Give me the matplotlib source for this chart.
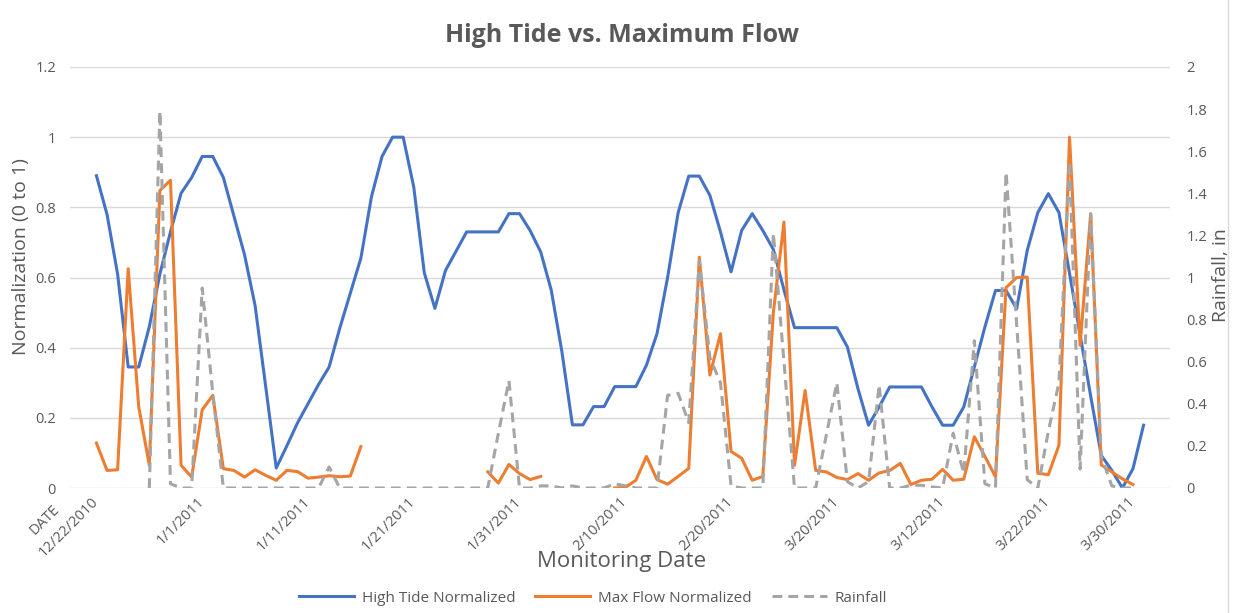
import numpy as np
import matplotlib
matplotlib.use('Agg')
import matplotlib.pyplot as plt
from matplotlib.lines import Line2D
import matplotlib.transforms as mtransforms

plt.rcParams['font.family'] = ['Open Sans', 'DejaVu Sans']

nan = np.nan

# high tide, normalized (0 to 1), one value per monitoring day
high_tide = [
    0.89, 0.78, 0.61, 0.345, 0.345, 0.46, 0.61, 0.73, 0.84, 0.885,
    0.945, 0.945, 0.885, 0.775, 0.665, 0.52, 0.29, 0.057, 0.12, 0.185,
    0.24, 0.295, 0.345, 0.455, 0.555, 0.655, 0.83, 0.945, 1.0, 1.0,
    0.858, 0.613, 0.512, 0.62, 0.675, 0.73, 0.73, 0.73, 0.73, 0.782,
    0.782, 0.734, 0.673, 0.564, 0.39, 0.18, 0.18, 0.232, 0.232, 0.289,
    0.289, 0.289, 0.35, 0.44, 0.60, 0.785, 0.889, 0.889, 0.834, 0.73,
    0.616, 0.734, 0.782, 0.734, 0.68, 0.565, 0.457, 0.457, 0.457, 0.457,
    0.457, 0.402, 0.283, 0.179, 0.231, 0.288, 0.288, 0.288, 0.288, 0.231,
    0.179, 0.179, 0.231, 0.345, 0.459, 0.563, 0.563, 0.511, 0.677, 0.785,
    0.839, 0.785, 0.612, 0.437, 0.262, 0.093, 0.05, 0.0, 0.055, 0.179,
]

# max flow, normalized (gaps = no record)
max_flow = [
    0.128, 0.05, 0.052, 0.625, 0.231, 0.065, 0.848, 0.877, 0.065, 0.031,
    0.223, 0.264, 0.055, 0.05, 0.031, 0.052, 0.036, 0.022, 0.05, 0.047,
    0.028, 0.031, 0.035, 0.032, 0.034, 0.118, nan, nan, nan, nan,
    nan, nan, nan, nan, nan, nan, nan, 0.046, 0.014, 0.067,
    0.041, 0.024, 0.033, nan, nan, nan, nan, nan, nan, 0.0,
    0.002, 0.022, 0.09, 0.024, 0.011, 0.033, 0.056, 0.658, 0.322, 0.44,
    0.104, 0.085, 0.022, 0.033, 0.5, 0.758, 0.065, 0.278, 0.05, 0.046,
    0.03, 0.024, 0.041, 0.022, 0.043, 0.05, 0.07, 0.01, 0.022, 0.025,
    0.053, 0.022, 0.025, 0.146, 0.09, 0.032, 0.571, 0.6, 0.601, 0.042,
    0.038, 0.122, 1.0, 0.407, 0.782, 0.066, 0.046, 0.026, 0.01, nan,
]

# rainfall, inches
rainfall = [
    nan, nan, nan, nan, nan, 0.0, 1.79, 0.02, 0.0, 0.0,
    0.95, 0.45, 0.0, 0.0, 0.0, 0.0, 0.0, 0.0, 0.0, 0.0,
    0.0, 0.0, 0.1, 0.0, 0.0, 0.0, 0.0, 0.0, 0.0, 0.0,
    0.0, 0.0, 0.0, 0.0, 0.0, 0.0, 0.0, 0.0, 0.26, 0.51,
    0.0, 0.0, 0.01, 0.01, 0.0, 0.01, 0.0, 0.0, 0.0, 0.02,
    0.01, 0.0, 0.0, 0.0, 0.44, 0.45, 0.31, 1.08, 0.62, 0.5,
    0.01, 0.0, 0.0, 0.0, 1.21, 0.6, 0.0, 0.0, 0.0, 0.25,
    0.5, 0.03, 0.0, 0.03, 0.49, 0.0, 0.0, 0.013, 0.013, 0.005,
    0.0, 0.26, 0.07, 0.7, 0.02, 0.0, 1.5, 0.78, 0.04, 0.0,
    0.27, 0.5, 1.55, 0.09, 1.3, 0.15, 0.01, 0.0, 0.0, nan,
]

date_labels = ["12/22/2010", "1/1/2011", "1/11/2011", "1/21/2011", "1/31/2011",
               "2/10/2011", "2/20/2011", "3/20/2011", "3/12/2011", "3/22/2011",
               "3/30/2011"]

GREY_TXT = "#595959"
BLUE = "#4472C4"
ORANGE = "#ED7D31"
GREY = "#A5A5A5"

x = np.arange(len(high_tide))

fig = plt.figure(figsize=(12.38, 6.13), dpi=100)
ax = fig.add_axes([70 / 1238, 1 - 488 / 613, 1100 / 1238, 421 / 613])
ax2 = ax.twinx()

ax.plot(x, high_tide, color=BLUE, lw=2.2, label="High Tide Normalized")
ax.plot(x, max_flow, color=ORANGE, lw=2.2, label="Max Flow Normalized")
ax2.plot(x, rainfall, color=GREY, lw=2.2, ls=(0, (3.2, 2.0)), label="Rainfall")

ax.set_xlim(-2.5, len(high_tide) + 1.5)
ax.set_ylim(0, 1.2)
ax2.set_ylim(0, 2)

ax.set_yticks(np.arange(0, 1.21, 0.2))
ax.set_yticklabels(["0", "0.2", "0.4", "0.6", "0.8", "1", "1.2"])
ax2.set_yticks(np.arange(0, 2.01, 0.2))
ax2.set_yticklabels(["0", "0.2", "0.4", "0.6", "0.8", "1", "1.2", "1.4", "1.6", "1.8", "2"])

tick_pos = list(range(0, 100, 10)) + [98]
ax.set_xticks(tick_pos)
ax.set_xticklabels(date_labels, rotation=45, ha="right", va="center",
                   rotation_mode="anchor")

ax.grid(axis="y", color="#D9D9D9", lw=1)
ax.set_axisbelow(True)
for a in (ax, ax2):
    for s in a.spines.values():
        s.set_visible(False)
    a.tick_params(length=0, colors=GREY_TXT, labelsize=10.5)
ax.tick_params(axis="y", pad=10)
ax.tick_params(axis="x", pad=8)
ax2.tick_params(axis="y", pad=12)

# stray header label left of the first date
trans = mtransforms.blended_transform_factory(ax.transData, ax.transAxes)
ax.text(-3.7, -0.045, "DATE", transform=trans, rotation=45, ha="right", va="center",
        rotation_mode="anchor", color=GREY_TXT, fontsize=10.5, clip_on=False)

ax.set_ylabel("Normalization (0 to 1)", color=GREY_TXT, fontsize=14)
ax.yaxis.set_label_coords(-0.036, 0.55)
ax2.set_ylabel("Rainfall, in", color=GREY_TXT, fontsize=14)
ax2.yaxis.set_label_coords(1.038, 0.505)

fig.text(622 / 1238, 1 - 35 / 613, "High Tide vs. Maximum Flow", ha="center", va="center",
         fontsize=18, fontweight="bold", color=GREY_TXT)
fig.text(622 / 1238, 1 - 562 / 613, "Monitoring Date", ha="center", va="center",
         fontsize=16, color=GREY_TXT)

handles = [ax.lines[0], ax.lines[1], ax2.lines[0]]
fig.legend(handles, [h.get_label() for h in handles], loc="center",
           bbox_to_anchor=(593 / 1238, 1 - 598 / 613), ncol=3, frameon=False,
           fontsize=11, handlelength=3.6, columnspacing=1.3, handletextpad=0.5,
           labelcolor=GREY_TXT)

fig.add_artist(Line2D([1228 / 1238, 1228 / 1238], [0, 1], color="#D9D9D9", lw=1,
                      transform=fig.transFigure))

fig.savefig("out.png", dpi=100)
